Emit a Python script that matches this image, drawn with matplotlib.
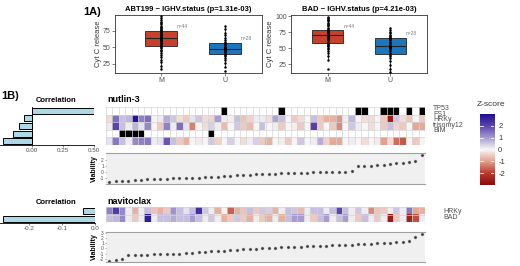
import numpy as np
import matplotlib
matplotlib.use("Agg")
import matplotlib.pyplot as plt
from matplotlib.colors import LinearSegmentedColormap, Normalize

plt.rcParams['font.family'] = ['Liberation Sans', 'DejaVu Sans']

# ---------------- data ----------------
# 1A) Cyt C release by IGHV status
abt_m = [17, 22, 27, 31, 35, 38, 41, 44, 46, 48, 50, 52, 53, 55, 56, 58, 59, 60,
         61, 62, 63, 64, 64, 65, 66, 67, 68, 69, 70, 71, 73, 74, 75, 76, 77, 79,
         81, 83, 85, 87, 89, 92, 95, 98]
abt_u = [13, 20, 26, 30, 33, 36, 38, 40, 42, 43, 45, 46, 47, 47, 48, 49, 50, 52,
         54, 55, 56, 58, 61, 64, 68, 72, 77, 82]
bad_m = [17, 32, 38, 42, 46, 49, 51, 53, 54, 55, 56, 58, 60, 62, 64, 65, 66, 67,
         68, 69, 69, 70, 70, 71, 72, 72, 73, 74, 74, 75, 76, 77, 78, 80, 82, 84,
         86, 88, 90, 92, 94, 96, 98, 99]
bad_u = [12, 18, 24, 30, 35, 38, 40, 42, 45, 48, 50, 52, 53, 54, 54, 56, 58, 60,
         62, 64, 66, 67, 69, 71, 73, 76, 79, 81]
groups = ["M", "U"]
titles_1a = ["ABT199 ~ IGHV.status (p=1.31e-03)", "BAD ~ IGHV.status (p=4.21e-03)"]

# 1B) nutlin-3
nut_features = ["TP53", "FS1", "HRKy", "trisomy12", "BIM"]
nut_corr = [0.50, -0.06, -0.10, -0.15, -0.23]
tp53_mut = [18, 27, 39, 40, 43, 44, 45, 47, 49]
tri12_mut = [2, 3, 4, 5, 16]
nut_fs1 = [-0.3, 1.5, 0.6, 0.7, 2.9, 1.3, 1.5, 0.0, 0.1, 0.8,
           0.5, -0.3, -0.5, 0.2, 0.5, -0.3, -0.4, 1.0, 0.1, -0.1,
           0.6, -0.6, -0.4, 0.1, 0.1, -0.3, 0.9, 0.6, 0.0, -0.5,
           -0.3, 0.0, 0.6, -0.5, -0.8, -0.8, -1.1, 0.1, 0.7, 0.0,
           -0.3, -0.3, 0.0, -0.5, -2.6, 0.5, -0.3, -0.6, 0.0, -0.5]
nut_hrky = [0.1, 2.0, 0.6, 0.1, 0.7, 0.2, 1.2, 0.0, -0.5, 1.3,
            0.1, 1.5, 0.2, -1.3, 0.0, -0.3, 0.4, 0.1, -0.7, 0.0,
            0.5, -0.5, -0.7, 0.0, 0.6, 0.0, 0.1, -0.5, 0.0, -0.1,
            -0.5, 0.0, 2.1, -0.5, 0.0, -0.5, -1.2, 0.0, 0.5, 0.1,
            0.0, -0.3, 0.0, -0.5, 0.6, -0.4, -0.5, 0.0, -0.9, -0.9]
nut_bim = [0.2, 1.4, 0.6, 0.1, 1.2, 1.3, 1.4, 0.1, 0.2, 1.8,
           0.6, -0.5, -0.8, 0.0, 0.1, 0.0, 0.5, -0.4, 0.0, 0.4,
           0.0, -0.3, 0.1, 0.4, -0.5, -0.8, 0.0, 0.1, -0.5, 0.0,
           0.5, 0.0, 0.1, 0.8, -0.4, -0.9, -0.9, 0.0, 0.1, 0.0,
           -0.3, 0.0, 0.1, -1.0, -0.3, -1.5, -1.7, 0.0, -0.5, 0.0]
nut_viab = [-1.60, -1.52, -1.45, -1.38, -1.32, -1.25, -1.19, -1.13, -1.10, -1.07,
            -1.03, -1.00, -0.97, -0.93, -0.90, -0.87, -0.80, -0.74, -0.68, -0.62,
            -0.56, -0.50, -0.44, -0.38, -0.32, -0.29, -0.26, -0.23, -0.20, -0.17,
            -0.14, -0.11, -0.08, -0.05, -0.02, 0.01, 0.04, 0.07, 0.10, 0.90,
            0.95, 1.00, 1.05, 1.20, 1.25, 1.40, 1.45, 1.60, 1.75, 2.80]

# 1B) navitoclax
nav_features = ["HRKy", "BAD"]
nav_corr = [-0.037, -0.28]
nav_hrky = [1.3, 2.2, 1.2, 0.1, -0.8, 0.1, 0.6, -0.6, -0.8, -0.5,
            1.1, 0.6, 0.2, 0.6, 2.4, 0.5, 0.1, -0.8, 0.0, -1.6,
            -0.8, -0.6, 0.6, -0.5, 0.5, 0.4, -0.8, 0.1, 0.6, 0.5,
            -0.7, 0.1, 0.6, 0.6, 0.1, 0.6, 2.0, 0.6, 0.1, 0.5,
            0.1, -1.2, -0.6, -0.5, 0.1, 0.5, 0.1, 1.4, -0.9, -0.8]
nav_bad = [0.6, 0.7, 1.2, 0.1, -0.5, 0.1, 2.7, 0.1, 0.6, 0.6,
           0.8, 0.6, 0.6, 1.0, 0.6, 0.1, 0.5, 0.1, -0.8, -0.5,
           0.5, -0.5, -0.8, 0.1, -0.5, -0.8, 0.1, -0.8, 0.6, 1.0,
           1.0, 0.1, -0.5, 0.6, 1.0, 0.1, 0.6, 1.0, 0.1, -0.5,
           0.6, 0.1, -0.5, 0.1, -2.6, -0.5, 0.1, -2.5, -1.8, 0.1]
nav_viab = [-2.45, -2.15, -2.00, -1.25, -1.22, -1.20, -1.18, -1.16, -1.14, -1.12,
            -1.10, -1.05, -0.95, -0.85, -0.75, -0.65, -0.55, -0.50, -0.42, -0.35,
            -0.28, -0.20, -0.12, -0.05, 0.02, 0.07, 0.12, 0.17, 0.22, 0.27,
            0.32, 0.37, 0.42, 0.47, 0.52, 0.57, 0.62, 0.67, 0.72, 0.78,
            0.84, 0.90, 0.96, 1.02, 1.08, 1.14, 1.20, 1.35, 2.20, 2.80]

# ---------------- style ----------------
W, H = 520, 266
M_COLOR, U_COLOR = "#C5412C", "#1C76BE"
BAR_COLOR = "#ADD8E6"
GRID = "#D4D4D4"
TXT = "#4D4D4D"
cmap = LinearSegmentedColormap.from_list(
    "zs", [(0.0, "#8B0A0A"), (1/6, "#B83A2E"), (2/6, "#E3A18E"), (0.5, "#F8F6F6"),
           (4/6, "#A79BD0"), (5/6, "#5D45AE"), (1.0, "#1E0F96")])
norm = Normalize(-3, 3)


def rect(x0, y0, x1, y1):
    """pixel box (from top-left) -> figure fraction"""
    return [x0 / W, 1 - y1 / H, (x1 - x0) / W, (y1 - y0) / H]


def put(x, y, s, **kw):
    fig.text(x / W, 1 - y / H, s, **kw)


def box_panel(ax, m_vals, u_vals, title, xlim, ylim, yticks):
    bp = ax.boxplot([m_vals, u_vals], positions=[1, 2], widths=0.5,
                    patch_artist=True, showfliers=False,
                    medianprops=dict(color="#222222", lw=0.8),
                    boxprops=dict(edgecolor="#222222", lw=0.6),
                    whiskerprops=dict(color="#222222", lw=0.6),
                    capprops=dict(lw=0))
    for patch, c in zip(bp["boxes"], [M_COLOR, U_COLOR]):
        patch.set_facecolor(c)
    for pos, vals in zip([1, 2], [m_vals, u_vals]):
        ax.plot(np.full(len(vals), pos), vals, "o", ms=1.8, color="black",
                mew=0, zorder=3)
        ax.text(pos + 0.25, np.percentile(vals, 75) + 6, "n=%d" % len(vals),
                fontsize=3.5, color="#777777", ha="left", va="center")
    ax.set_xlim(*xlim)
    ax.set_ylim(*ylim)
    ax.set_yticks(yticks)
    ax.set_xticks([1, 2], groups)
    ax.tick_params(labelsize=5, length=2, width=0.5, colors=TXT, pad=1)
    ax.set_ylabel("Cyt C release", fontsize=5.5, color="#333333", labelpad=1)
    ax.set_title(title, fontsize=5.5, fontweight="bold", pad=3)
    for sp in ax.spines.values():
        sp.set_linewidth(0.6)
        sp.set_color("#333333")


def heat_panel(ax, rows):
    rgba = []
    for kind, vals in rows:
        if kind == "bin":
            rgba.append([(0, 0, 0, 1) if v else (1, 1, 1, 1) for v in vals])
        else:
            rgba.append(cmap(norm(vals)))
    ax.imshow(np.array(rgba), aspect="auto", interpolation="nearest")
    nr, nc = len(rows), len(rows[0][1])
    for c in range(nc + 1):
        ax.axvline(c - 0.5, color=GRID, lw=0.5)
    for r in range(nr + 1):
        ax.axhline(r - 0.5, color=GRID, lw=0.5)
    ax.axis("off")


def corr_panel(ax, vals, xlim, xticks, xlabels, height):
    y = np.arange(len(vals))
    ax.barh(y, vals, height=height, color=BAR_COLOR, edgecolor="black", lw=0.7)
    ax.axvline(0, color="black", lw=0.6)
    ax.set_ylim(len(vals) - 0.5, -0.5)
    ax.set_xlim(*xlim)
    ax.set_xticks(xticks, xlabels)
    ax.set_yticks([])
    for s in ["top", "right", "left"]:
        ax.spines[s].set_visible(False)
    ax.spines["bottom"].set_linewidth(0.6)
    ax.tick_params(labelsize=4.5, length=1.5, width=0.5, colors=TXT, pad=1)


def viab_panel(ax, vals, ylim, yticks):
    ax.set_facecolor("#F0F0F0")
    ax.plot(np.arange(len(vals)), vals, "o", ms=2.2, color="#3A3A3A",
            mec="#AAAAAA", mew=0.3)
    ax.set_xlim(-0.5, len(vals) - 0.5)
    ax.set_ylim(*ylim)
    ax.set_yticks(yticks, [str(t) for t in yticks])
    ax.set_xticks([])
    for s in ["left", "right"]:
        ax.spines[s].set_visible(False)
    for s in ["top", "bottom"]:
        ax.spines[s].set_color("#A0A0A0")
        ax.spines[s].set_linewidth(0.8)
    ax.tick_params(labelsize=3.5, length=1, width=0.4, colors=TXT, pad=0.5)
    ax.set_ylabel("Viability", fontsize=5, fontweight="bold", labelpad=1)


fig = plt.figure(figsize=(W / 100, H / 100), dpi=100)

# 1A
ax1 = fig.add_axes(rect(115, 15, 262, 73))
box_panel(ax1, abt_m, abt_u, titles_1a[0], (0.28, 2.58), (10.6, 99.1), [25, 50, 75])
ax2 = fig.add_axes(rect(291, 15, 427, 73))
box_panel(ax2, bad_m, bad_u, titles_1a[1], (0.41, 2.59), (11, 102), [25, 50, 75, 100])
put(83, 12, "1A)", fontsize=8, fontweight="bold", va="center")

# 1B nutlin-3
put(1, 96, "1B)", fontsize=8, fontweight="bold", va="center")
c1 = fig.add_axes(rect(0, 107, 94.3, 145))
corr_panel(c1, nut_corr, (-0.2508, 0.5), [0, 0.25, 0.5], ["0.00", "0.25", "0.50"], 0.8)
put(56, 100, "Correlation", fontsize=5.5, fontweight="bold", ha="center", va="center")
h1 = fig.add_axes(rect(106, 107, 425, 145))
heat_panel(h1, [("bin", [int(i in tp53_mut) for i in range(50)]),
                ("z", nut_fs1), ("z", nut_hrky),
                ("bin", [int(i in tri12_mut) for i in range(50)]),
                ("z", nut_bim)])
put(107, 100, "nutlin-3", fontsize=6.5, fontweight="bold", va="center")
for i, name in enumerate(nut_features):
    put(433, 108.5 + 5.6 * i, name, fontsize=5, color=TXT, va="center")
v1 = fig.add_axes(rect(106, 153, 425, 184))
viab_panel(v1, nut_viab, (-1.94, 3.06), [-1, 0, 1, 2])

# 1B navitoclax
c2 = fig.add_axes(rect(0, 207, 95, 223))
corr_panel(c2, nav_corr, (-0.29, 0.0), [-0.2, -0.1, 0.0], ["-0.2", "-0.1", "0.0"], 0.72)
put(56, 202, "Correlation", fontsize=5.5, fontweight="bold", ha="center", va="center")
h2 = fig.add_axes(rect(106, 207, 425, 222))
heat_panel(h2, [("z", nav_hrky), ("z", nav_bad)])
put(107, 201.5, "navitoclax", fontsize=6.5, fontweight="bold", va="center")
for i, name in enumerate(nav_features):
    put(443, 211.7 + 5.6 * i, name, fontsize=5, color=TXT, va="center")
v2 = fig.add_axes(rect(106, 232, 425, 262))
viab_panel(v2, nav_viab, (-2.6, 3.1), [-2, -1, 0, 1, 2, 3])

# colour legend
cax = fig.add_axes(rect(480, 114, 494, 185))
grad = np.linspace(-3, 3, 256)[:, None]
cax.imshow(grad, cmap=cmap, norm=norm, aspect="auto", origin="lower",
           extent=[0, 1, -3, 3])
cb_ticks = [-2, -1, 0, 1, 2]
for t in cb_ticks:
    cax.plot([0, 0.2], [t, t], color="white", lw=0.6)
    cax.plot([0.8, 1], [t, t], color="white", lw=0.6)
cax.set_xlim(0, 1)
cax.set_ylim(-3, 3)
cax.set_xticks([])
cax.yaxis.tick_right()
cax.set_yticks(cb_ticks, [str(t) for t in cb_ticks])
cax.tick_params(length=0, labelsize=5.5, colors="#333333", pad=3)
for sp in cax.spines.values():
    sp.set_visible(False)
put(477, 104, "Z-score", fontsize=6, color="#333333", va="center")

fig.savefig("out.png", dpi=100)
